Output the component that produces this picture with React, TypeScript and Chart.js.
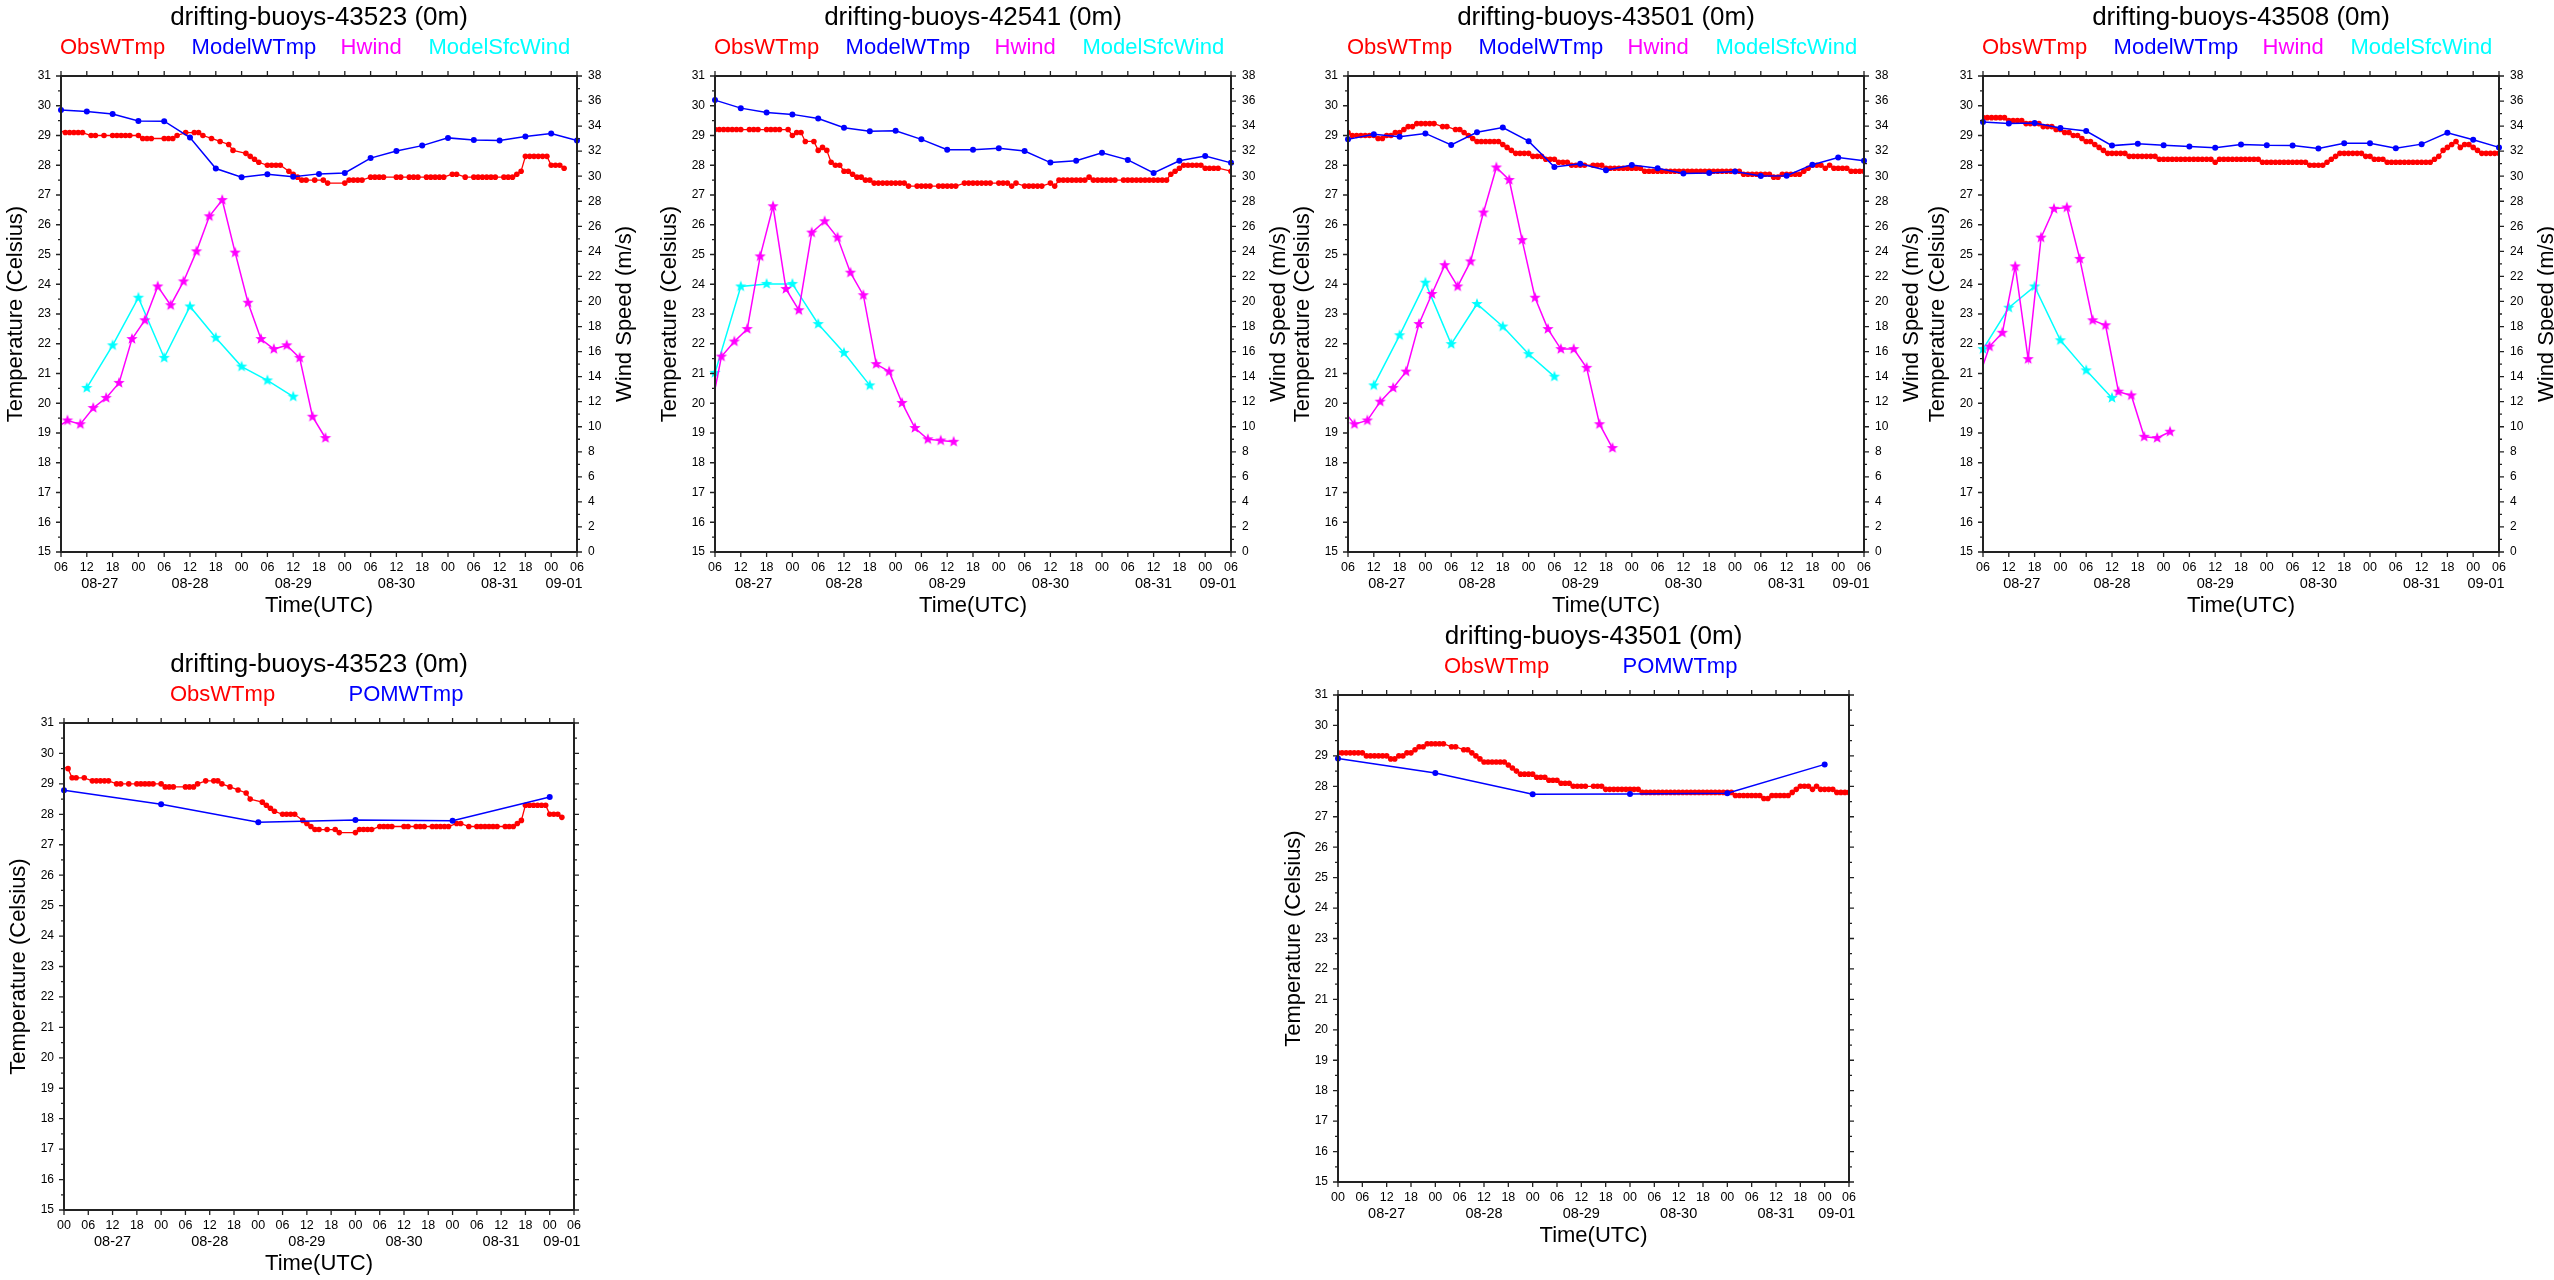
import React, { useEffect, useRef } from 'react';
import { Chart, registerables } from 'chart.js';

Chart.register(...registerables);

const FONT = '"Liberation Sans", Arial, Helvetica, sans-serif';
Chart.defaults.font.family = FONT;

const RED = '#ff0000';
const BLUE = '#0000ff';
const MAGENTA = '#ff00ff';
const CYAN = '#00ffff';

// ---------- tick / category labels ----------
const DATE_LABELS = ['08-27', '08-28', '08-29', '08-30', '08-31', '09-01'];
const TEMP_RANGE = [15, 31];
const WIND_RANGE = [0, 38];

// hours are counted from 08-27 00Z
const MODEL_HOURS = [6, 12, 18, 24, 30, 36, 42, 48, 54, 60, 66, 72, 78, 84, 90, 96, 102, 108, 114, 120, 126];
const POM_HOURS = [0, 24, 48, 72, 96, 120];

// ---------- buoy 43523 ----------
const OBS_43523_START = -1;
const OBS_43523 = [
  29.6, null, 29.5, 29.2, 29.2, null, 29.2,
  null, 29.1, 29.1, 29.1, 29.1, 29.1,
  null, 29.0, 29.0, null, 29.0, null,
  29.0, 29.0, 29.0, 29.0, 29.0, null,
  29.0, 28.9, 28.9, 28.9, null, null,
  28.9, 28.9, 28.9, 29.0, null, 29.1,
  null, 29.1, 29.1, 29.0, null, 28.9,
  null, 28.8, null, 28.7, 28.5, null,
  null, 28.4, 28.3, 28.2, 28.1, null,
  28.0, 28.0, 28.0, 28.0, null, 27.8,
  27.7, 27.6, 27.5, 27.5, null, 27.5,
  null, 27.5, 27.4, null, null, null,
  27.4, 27.5, 27.5, 27.5, 27.5, null,
  27.6, 27.6, 27.6, 27.6, null, null,
  27.6, 27.6, null, 27.6, 27.6, 27.6,
  null, 27.6, 27.6, 27.6, 27.6, 27.6,
  null, 27.7, 27.7, null, 27.6, null,
  27.6, 27.6, 27.6, 27.6, 27.6, 27.6,
  null, 27.6, 27.6, 27.6, 27.7, 27.8,
  28.3, 28.3, 28.3, 28.3, 28.3, 28.3,
  28.0, 28.0, 28.0, 27.9, null, null,
  null, 27.6,
];
const MODEL_43523 = [29.86, 29.81, 29.72, 29.49, 29.48, 28.93, 27.89, 27.6, 27.7, 27.61, 27.71, 27.74, 28.24, 28.48, 28.66, 28.92, 28.85, 28.83, 28.97, 29.07, 28.83];
const POM_43523 = [28.79, 28.33, 27.74, 27.81, 27.79, 28.57];
const HWIND_HOURS_43523 = [4.5, 7.5, 10.5, 13.5, 16.5, 19.5, 22.5, 25.5, 28.5, 31.5, 34.5, 37.5, 40.5, 43.5, 46.5, 49.5, 52.5, 55.5, 58.5, 61.5, 64.5, 67.5];
const HWIND_43523 = [9.8, 10.5, 10.2, 11.5, 12.3, 13.5, 17.0, 18.5, 21.2, 19.7, 21.6, 24.0, 26.8, 28.1, 23.9, 19.9, 17.0, 16.2, 16.5, 15.5, 10.8, 9.1];
const SFC_HOURS_43523 = [12, 18, 24, 30, 36, 42, 48, 54, 60];
const SFC_43523 = [13.1, 16.5, 20.3, 15.5, 19.6, 17.1, 14.8, 13.7, 12.4];

// ---------- buoy 42541 ----------
const OBS_42541_START = 6;
const OBS_42541 = [
  29.2, 29.2, 29.2, 29.2, 29.2, 29.2,
  29.2, null, 29.2, 29.2, 29.2, null,
  29.2, 29.2, 29.2, 29.2, null, 29.2,
  29.0, 29.1, 29.1, 28.8, null, 28.8,
  28.5, 28.6, 28.5, 28.1, 28.0, 28.0,
  27.8, 27.8, 27.7, 27.6, 27.6, 27.5,
  27.5, 27.4, 27.4, 27.4, 27.4, 27.4,
  27.4, 27.4, 27.4, 27.3, null, 27.3,
  27.3, 27.3, 27.3, null, 27.3, 27.3,
  27.3, 27.3, 27.3, null, 27.4, 27.4,
  27.4, 27.4, 27.4, 27.4, 27.4, null,
  27.4, 27.4, 27.4, 27.3, 27.4, null,
  27.3, 27.3, 27.3, 27.3, 27.3, null,
  27.4, 27.3, 27.5, 27.5, 27.5, 27.5,
  27.5, 27.5, 27.5, 27.6, 27.5, 27.5,
  27.5, 27.5, 27.5, 27.5, null, 27.5,
  27.5, 27.5, 27.5, 27.5, 27.5, 27.5,
  27.5, 27.5, 27.5, 27.5, 27.7, 27.8,
  27.9, 28.0, 28.0, 28.0, 28.0, 28.0,
  27.9, 27.9, 27.9, 27.9, null, null,
  27.8, 27.8,
];
const MODEL_42541 = [30.19, 29.92, 29.77, 29.71, 29.57, 29.26, 29.14, 29.16, 28.87, 28.52, 28.52, 28.57, 28.48, 28.09, 28.15, 28.42, 28.18, 27.74, 28.15, 28.31, 28.08];
const HWIND_HOURS_42541 = [4.5, 7.5, 10.5, 13.5, 16.5, 19.5, 22.5, 25.5, 28.5, 31.5, 34.5, 37.5, 40.5, 43.5, 46.5, 49.5, 52.5, 55.5, 58.5, 61.5];
const HWIND_42541 = [10.4, 15.6, 16.8, 17.8, 23.6, 27.6, 21.0, 19.3, 25.5, 26.4, 25.1, 22.3, 20.5, 15.0, 14.4, 11.9, 9.9, 9.0, 8.9, 8.8];
const SFC_HOURS_42541 = [6, 12, 18, 24, 30, 36, 42];
const SFC_42541 = [14.3, 21.2, 21.4, 21.4, 18.2, 15.9, 13.3];

// ---------- buoy 43501 ----------
const OBS_43501_START = 0;
const OBS_43501 = [
  29.1, 29.1, 29.1, 29.1, 29.1, 29.1,
  29.1, 29.0, 29.0, 29.0, 29.0, 29.0,
  29.0, 28.9, 28.9, 29.0, 29.0, 29.1,
  29.1, 29.2, 29.3, 29.3, 29.4, 29.4,
  29.4, 29.4, 29.4, null, 29.3, 29.3,
  null, 29.2, 29.2, 29.1, 29.0, 28.9,
  28.8, 28.8, 28.8, 28.8, 28.8, 28.8,
  28.7, 28.6, 28.5, 28.4, 28.4, 28.4,
  28.4, 28.3, 28.3, 28.3, 28.2, 28.2,
  28.2, 28.1, 28.1, 28.1, 28.0, 28.0,
  28.0, 28.0, null, 28.0, 28.0, 28.0,
  27.9, 27.9, 27.9, 27.9, 27.9, 27.9,
  27.9, 27.9, 27.9, 27.8, 27.8, 27.8,
  27.8, 27.8, 27.8, 27.8, 27.8, 27.8,
  27.8, 27.8, 27.8, 27.8, 27.8, 27.8,
  27.8, 27.8, 27.8, 27.8, 27.8, 27.8,
  27.8, 27.8, 27.7, 27.7, 27.7, 27.7,
  27.7, 27.7, 27.7, 27.6, 27.6, 27.7,
  27.7, 27.7, 27.7, 27.7, 27.8, 27.9,
  28.0, 28.0, 28.0, 27.9, 28.0, 27.9,
  27.9, 27.9, 27.9, 27.8, 27.8, 27.8,
  27.8, 27.8,
];
const MODEL_43501 = [28.87, 29.04, 28.96, 29.07, 28.68, 29.11, 29.27, 28.81, 27.94, 28.05, 27.83, 28.01, 27.9, 27.72, 27.74, 27.79, 27.64, 27.65, 28.02, 28.26, 28.15];
const POM_43501 = [28.91, 28.44, 27.74, 27.75, 27.77, 28.72];
const HWIND_HOURS_43501 = [4.5, 7.5, 10.5, 13.5, 16.5, 19.5, 22.5, 25.5, 28.5, 31.5, 34.5, 37.5, 40.5, 43.5, 46.5, 49.5, 52.5, 55.5, 58.5, 61.5, 64.5, 67.5];
const HWIND_43501 = [11.5, 10.2, 10.5, 12.0, 13.1, 14.4, 18.2, 20.6, 22.9, 21.2, 23.2, 27.1, 30.7, 29.7, 24.9, 20.3, 17.8, 16.2, 16.2, 14.7, 10.2, 8.3];
const SFC_HOURS_43501 = [12, 18, 24, 30, 36, 42, 48, 54];
const SFC_43501 = [13.3, 17.3, 21.5, 16.6, 19.8, 18.0, 15.8, 14.0];

// ---------- buoy 43508 ----------
const OBS_43508_START = 6;
const OBS_43508 = [
  29.6, 29.6, 29.6, 29.6, 29.6, 29.6,
  29.5, 29.5, 29.5, 29.5, 29.4, 29.4,
  29.4, 29.4, 29.3, 29.3, 29.3, 29.2,
  29.2, 29.1, 29.1, 29.0, 29.0, 28.9,
  28.8, 28.8, 28.7, 28.6, 28.5, 28.4,
  28.4, 28.4, 28.4, 28.4, 28.3, 28.3,
  28.3, 28.3, 28.3, 28.3, 28.3, 28.2,
  28.2, 28.2, 28.2, 28.2, 28.2, 28.2,
  28.2, 28.2, 28.2, 28.2, 28.2, 28.2,
  28.1, 28.2, 28.2, 28.2, 28.2, 28.2,
  28.2, 28.2, 28.2, 28.2, 28.2, 28.1,
  28.1, 28.1, 28.1, 28.1, 28.1, 28.1,
  28.1, 28.1, 28.1, 28.1, 28.0, 28.0,
  28.0, 28.0, 28.1, 28.2, 28.3, 28.4,
  28.4, 28.4, 28.4, 28.4, 28.4, 28.3,
  28.3, 28.2, 28.2, 28.2, 28.1, 28.1,
  28.1, 28.1, 28.1, 28.1, 28.1, 28.1,
  28.1, 28.1, 28.1, 28.2, 28.3, 28.5,
  28.6, 28.7, 28.8, 28.6, 28.7, 28.7,
  28.6, 28.5, 28.4, 28.4, 28.4, 28.4,
  28.4, 28.4,
];
const MODEL_43508 = [29.45, 29.4, 29.42, 29.25, 29.15, 28.66, 28.72, 28.67, 28.63, 28.59, 28.7, 28.67, 28.66, 28.56, 28.74, 28.74, 28.57, 28.71, 29.09, 28.86, 28.6];
const HWIND_HOURS_43508 = [4.5, 7.5, 10.5, 13.5, 16.5, 19.5, 22.5, 25.5, 28.5, 31.5, 34.5, 37.5, 40.5, 43.5, 46.5, 49.5];
const HWIND_43508 = [13.4, 16.4, 17.5, 22.8, 15.4, 25.1, 27.4, 27.5, 23.4, 18.5, 18.1, 12.8, 12.5, 9.2, 9.1, 9.6];
const SFC_HOURS_43508 = [6, 12, 18, 24, 30, 36];
const SFC_43508 = [16.2, 19.5, 21.2, 16.9, 14.5, 12.3];

// ---------- layout ----------
const L = 60;
const T = 76;
const B = 75;
const R_WIND = 75;
const R_PLAIN = 40;

const TOP_LEGEND = [
  { text: 'ObsWTmp', color: RED, dx: -1 },
  { text: 'ModelWTmp', color: BLUE, dx: 130.6 },
  { text: 'Hwind', color: MAGENTA, dx: 279.6 },
  { text: 'ModelSfcWind', color: CYAN, dx: 367.4 },
];
const BOTTOM_LEGEND = [
  { text: 'ObsWTmp', color: RED, dx: 106 },
  { text: 'POMWTmp', color: BLUE, dx: 284.5 },
];

const PANELS: any[] = [
  {
    id: 'p1', title: 'drifting-buoys-43523 (0m)', left: 61, top: 76, w: 516, h: 476, xMin: 6, xMax: 126,
    obsStart: OBS_43523_START, obs: OBS_43523, modelName: 'ModelWTmp', modelHours: MODEL_HOURS, model: MODEL_43523,
    hwindHours: HWIND_HOURS_43523, hwind: HWIND_43523, sfcHours: SFC_HOURS_43523, sfc: SFC_43523,
    legend: TOP_LEGEND, yTitleDx: 44.7,
  },
  {
    id: 'p2', title: 'drifting-buoys-42541 (0m)', left: 715, top: 76, w: 516, h: 476, xMin: 6, xMax: 126,
    obsStart: OBS_42541_START, obs: OBS_42541, modelName: 'ModelWTmp', modelHours: MODEL_HOURS, model: MODEL_42541,
    hwindHours: HWIND_HOURS_42541, hwind: HWIND_42541, sfcHours: SFC_HOURS_42541, sfc: SFC_42541,
    legend: TOP_LEGEND, yTitleDx: 44.7,
  },
  {
    id: 'p3', title: 'drifting-buoys-43501 (0m)', left: 1348, top: 76, w: 516, h: 476, xMin: 6, xMax: 126,
    obsStart: OBS_43501_START, obs: OBS_43501, modelName: 'ModelWTmp', modelHours: MODEL_HOURS, model: MODEL_43501,
    hwindHours: HWIND_HOURS_43501, hwind: HWIND_43501, sfcHours: SFC_HOURS_43501, sfc: SFC_43501,
    legend: TOP_LEGEND, yTitleDx: 44.7,
  },
  {
    id: 'p4', title: 'drifting-buoys-43508 (0m)', left: 1983, top: 76, w: 516, h: 476, xMin: 6, xMax: 126,
    obsStart: OBS_43508_START, obs: OBS_43508, modelName: 'ModelWTmp', modelHours: MODEL_HOURS, model: MODEL_43508,
    hwindHours: HWIND_HOURS_43508, hwind: HWIND_43508, sfcHours: SFC_HOURS_43508, sfc: SFC_43508,
    legend: TOP_LEGEND, yTitleDx: 44.7,
  },
  {
    id: 'p5', title: 'drifting-buoys-43523 (0m)', left: 64, top: 723, w: 510, h: 487, xMin: 0, xMax: 126,
    obsStart: OBS_43523_START, obs: OBS_43523, modelName: 'POMWTmp', modelHours: POM_HOURS, model: POM_43523,
    legend: BOTTOM_LEGEND, yTitleDx: 45.5,
  },
  {
    id: 'p6', title: 'drifting-buoys-43501 (0m)', left: 1338, top: 695, w: 511, h: 487, xMin: 0, xMax: 126,
    obsStart: OBS_43501_START, obs: OBS_43501, modelName: 'POMWTmp', modelHours: POM_HOURS, model: POM_43501,
    legend: BOTTOM_LEGEND, yTitleDx: 44,
  },
];

function hourLabel(v: any) {
  const h = ((Number(v) % 24) + 24) % 24;
  return String(h).padStart(2, '0');
}

function makeStar(color: string, r: number): HTMLCanvasElement {
  const size = Math.ceil(r * 2 + 2);
  const c = document.createElement('canvas');
  c.width = size;
  c.height = size;
  const g = c.getContext('2d')!;
  g.translate(size / 2, size / 2);
  g.beginPath();
  for (let i = 0; i < 10; i++) {
    const rad = i % 2 === 0 ? r : r * 0.42;
    const a = -Math.PI / 2 + (i * Math.PI) / 5;
    const px = rad * Math.cos(a);
    const py = rad * Math.sin(a);
    if (i === 0) g.moveTo(px, py);
    else g.lineTo(px, py);
  }
  g.closePath();
  g.fillStyle = color;
  g.fill();
  return c;
}

function makeDecor(p: any) {
  const hasWind = !!p.hwind;
  return {
    id: 'decor-' + p.id,
    afterDraw(chart: any) {
      const { ctx, chartArea: a, scales } = chart;
      const xs = scales.x;
      const ys = scales.y;
      ctx.save();
      // frame
      ctx.strokeStyle = '#222';
      ctx.lineWidth = 2;
      ctx.strokeRect(a.left, a.top, a.right - a.left, a.bottom - a.top);
      // tick marks
      ctx.lineWidth = 1.3;
      ctx.beginPath();
      xs.ticks.forEach((t: any) => {
        const px = xs.getPixelForValue(t.value);
        ctx.moveTo(px, a.bottom);
        ctx.lineTo(px, a.bottom + 5);
        ctx.moveTo(px, a.top);
        ctx.lineTo(px, a.top - 5);
      });
      ys.ticks.forEach((t: any) => {
        const py = ys.getPixelForValue(t.value);
        ctx.moveTo(a.left, py);
        ctx.lineTo(a.left - 5, py);
        if (!hasWind) {
          ctx.moveTo(a.right, py);
          ctx.lineTo(a.right + 5, py);
        }
        if (t.value < TEMP_RANGE[1]) {
          const pm = ys.getPixelForValue(t.value + 0.5);
          ctx.moveTo(a.left, pm);
          ctx.lineTo(a.left - 3, pm);
          if (!hasWind) {
            ctx.moveTo(a.right, pm);
            ctx.lineTo(a.right + 3, pm);
          }
        }
      });
      if (hasWind) {
        const y2 = scales.y2;
        y2.ticks.forEach((t: any) => {
          const py = y2.getPixelForValue(t.value);
          ctx.moveTo(a.right, py);
          ctx.lineTo(a.right + 5, py);
          if (t.value < WIND_RANGE[1]) {
            const pm = y2.getPixelForValue(t.value + 1);
            ctx.moveTo(a.right, pm);
            ctx.lineTo(a.right + 3, pm);
          }
        });
      }
      ctx.stroke();

      // date labels
      ctx.fillStyle = '#000';
      ctx.font = '14.5px ' + FONT;
      ctx.textAlign = 'center';
      ctx.textBaseline = 'middle';
      DATE_LABELS.forEach((lab, i) => {
        const s = Math.max(i * 24, p.xMin);
        const e = Math.min(i * 24 + 24, p.xMax);
        if (e > s) {
          ctx.fillText(lab, xs.getPixelForValue((s + e) / 2), a.bottom + 32);
        }
      });
      // x title
      ctx.font = '22px ' + FONT;
      ctx.fillText('Time(UTC)', (a.left + a.right) / 2, a.bottom + 53.5);
      // y title
      ctx.save();
      ctx.translate(a.left - p.yTitleDx, (a.top + a.bottom) / 2);
      ctx.rotate(-Math.PI / 2);
      ctx.fillText('Temperature (Celsius)', 0, 0);
      ctx.restore();
      if (hasWind) {
        ctx.save();
        ctx.translate(a.right + 48, (a.top + a.bottom) / 2);
        ctx.rotate(-Math.PI / 2);
        ctx.fillText('Wind Speed (m/s)', 0, 0);
        ctx.restore();
      }
      // title
      ctx.font = '26px ' + FONT;
      ctx.fillText(p.title, (a.left + a.right) / 2, a.top - 58.5);
      // legend
      ctx.font = '22px ' + FONT;
      ctx.textAlign = 'left';
      p.legend.forEach((item: any) => {
        ctx.fillStyle = item.color;
        ctx.fillText(item.text, a.left + item.dx, a.top - 28.3);
      });
      ctx.restore();
    },
  };
}

function Panel({ p }: { p: any }) {
  const ref = useRef<HTMLCanvasElement>(null);
  const hasWind = !!p.hwind;
  const R = hasWind ? R_WIND : R_PLAIN;
  const cw = L + p.w + R;
  const ch = T + p.h + B;

  useEffect(() => {
    const canvas = ref.current;
    if (!canvas) return;
    const datasets: any[] = [
      {
        label: p.modelName,
        data: p.modelHours.map((x: number, i: number) => ({ x, y: p.model[i] })),
        borderColor: BLUE,
        backgroundColor: BLUE,
        borderWidth: 1.5,
        pointRadius: 3,
        pointBorderWidth: 0,
        pointHoverRadius: 3,
        yAxisID: 'y',
        clip: false,
      },
      {
        label: 'ObsWTmp',
        data: p.obs.map((y: number | null, i: number) => ({ x: p.obsStart + i, y })),
        borderColor: RED,
        backgroundColor: RED,
        borderWidth: 1.3,
        pointRadius: 2.8,
        pointBorderWidth: 0,
        pointHoverRadius: 2.8,
        spanGaps: true,
        yAxisID: 'y',
      },
    ];
    if (hasWind) {
      datasets.push(
        {
          label: 'Hwind',
          data: p.hwindHours.map((x: number, i: number) => ({ x, y: p.hwind[i] })),
          borderColor: MAGENTA,
          backgroundColor: MAGENTA,
          borderWidth: 1.5,
          pointStyle: makeStar(MAGENTA, 6),
          pointRadius: 5,
          pointHoverRadius: 5,
          yAxisID: 'y2',
        },
        {
          label: 'ModelSfcWind',
          data: p.sfcHours.map((x: number, i: number) => ({ x, y: p.sfc[i] })),
          borderColor: CYAN,
          backgroundColor: CYAN,
          borderWidth: 1.5,
          pointStyle: makeStar(CYAN, 6),
          pointRadius: 5,
          pointHoverRadius: 5,
          yAxisID: 'y2',
          clip: false,
        }
      );
    }

    const scales: any = {
      x: {
        type: 'linear',
        min: p.xMin,
        max: p.xMax,
        grid: { display: false, drawTicks: false },
        border: { display: false },
        ticks: {
          stepSize: 6,
          autoSkip: false,
          maxRotation: 0,
          minRotation: 0,
          padding: 8,
          color: '#000',
          font: { size: 12.5, family: FONT },
          callback: hourLabel,
        },
        afterFit: (s: any) => {
          s.height = B;
        },
      },
      y: {
        type: 'linear',
        position: 'left',
        min: TEMP_RANGE[0],
        max: TEMP_RANGE[1],
        grid: { display: false, drawTicks: false },
        border: { display: false },
        ticks: { stepSize: 1, autoSkip: false, padding: 10, color: '#000', font: { size: 12, family: FONT } },
        afterFit: (s: any) => {
          s.width = L;
        },
      },
    };
    if (hasWind) {
      scales.y2 = {
        type: 'linear',
        position: 'right',
        min: WIND_RANGE[0],
        max: WIND_RANGE[1],
        grid: { display: false, drawTicks: false },
        border: { display: false },
        ticks: { stepSize: 2, autoSkip: false, padding: 11, color: '#000', font: { size: 12, family: FONT } },
        afterFit: (s: any) => {
          s.width = R_WIND;
        },
      };
    }

    const chart = new Chart(canvas, {
      type: 'line',
      data: { datasets },
      options: {
        animation: false,
        responsive: false,
        maintainAspectRatio: false,
        devicePixelRatio: 1,
        events: [],
        layout: { padding: { top: T, left: 0, right: hasWind ? 0 : R_PLAIN, bottom: 0 } },
        plugins: { legend: { display: false }, title: { display: false }, tooltip: { enabled: false } },
        scales,
      } as any,
      plugins: [makeDecor(p)],
    });
    return () => chart.destroy();
  }, []);

  return (
    <canvas
      ref={ref}
      width={cw}
      height={ch}
      style={{ position: 'absolute', left: p.left - L, top: p.top - T, width: cw, height: ch }}
    />
  );
}

export default function App() {
  return (
    <div
      style={{
        position: 'absolute',
        left: 0,
        top: 0,
        width: 2554,
        height: 1280,
        overflow: 'hidden',
        background: '#ffffff',
      }}
    >
      {PANELS.map((p) => (
        <Panel key={p.id} p={p} />
      ))}
    </div>
  );
}
